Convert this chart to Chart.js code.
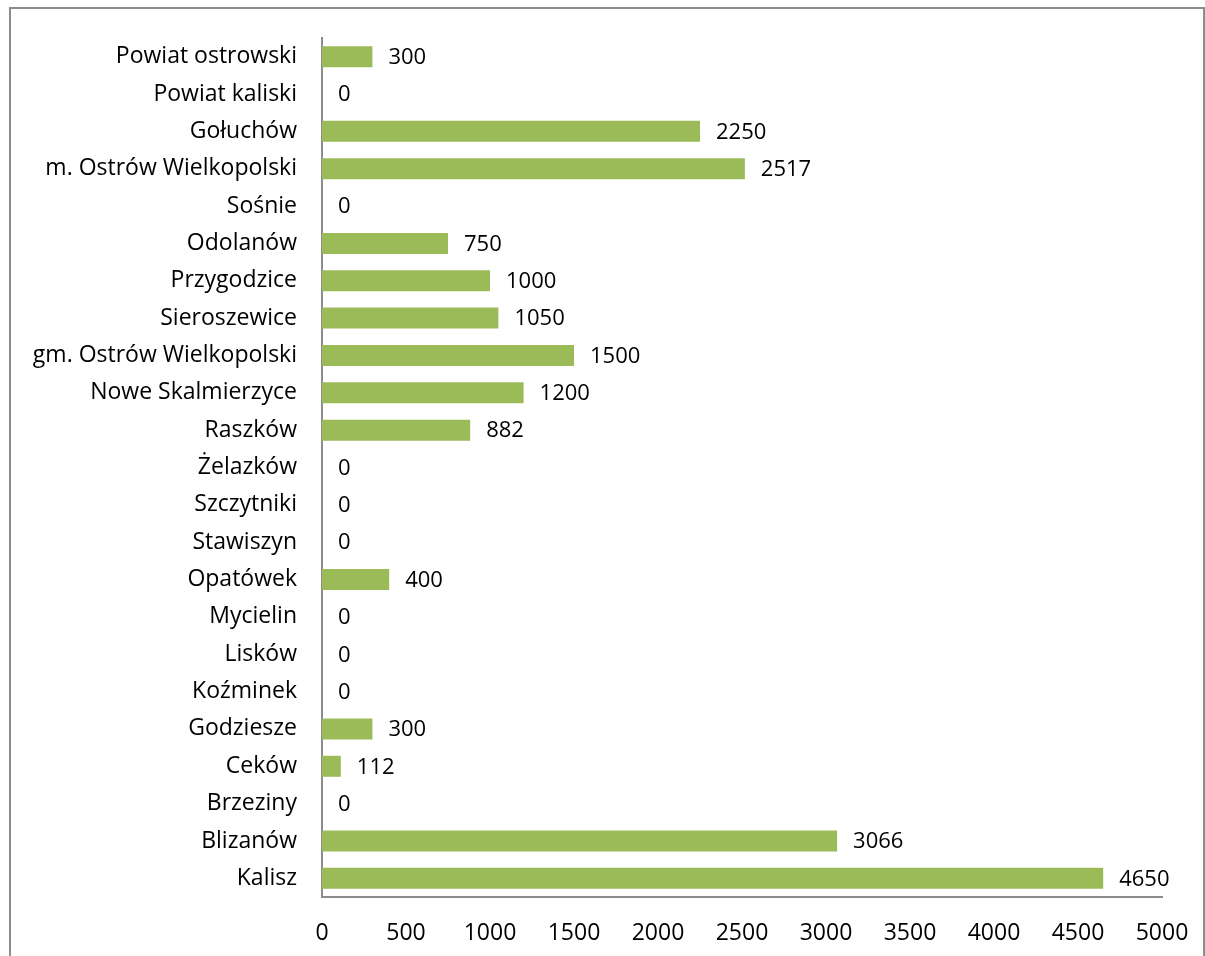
<!DOCTYPE html>
<html>
<head>
<meta charset="utf-8">
<script src="https://cdn.jsdelivr.net/npm/chart.js@4/dist/chart.umd.min.js"></script>
<style>
  html, body { margin: 0; padding: 0; background: #fff; }
  #wrap { width: 1205px; height: 956px; position: relative; }
</style>
</head>
<body>
<div id="wrap"><canvas id="chart" width="1205" height="956"></canvas></div>
<script>
// categories, top to bottom as in the picture
const gminy = [
  'Powiat ostrowski', 'Powiat kaliski', 'Gołuchów', 'm. Ostrów Wielkopolski',
  'Sośnie', 'Odolanów', 'Przygodzice', 'Sieroszewice', 'gm. Ostrów Wielkopolski',
  'Nowe Skalmierzyce', 'Raszków', 'Żelazków', 'Szczytniki', 'Stawiszyn',
  'Opatówek', 'Mycielin', 'Lisków', 'Koźminek', 'Godziesze', 'Ceków',
  'Brzeziny', 'Blizanów', 'Kalisz'
];
const wartosci = [
  300, 0, 2250, 2517, 0, 750, 1000, 1050, 1500, 1200, 882, 0, 0, 0,
  400, 0, 0, 0, 300, 112, 0, 3066, 4650
];
const xTicks = [0, 500, 1000, 1500, 2000, 2500, 3000, 3500, 4000, 4500, 5000];

const FONT = '"Open Sans", "Noto Sans", sans-serif';
const SIZE = 23;

// outer frame like the office chart border
const ramka = {
  id: 'ramka',
  beforeDraw(chart) {
    const ctx = chart.ctx;
    ctx.save();
    ctx.strokeStyle = '#8c8c8c';
    ctx.lineWidth = 2;
    ctx.strokeRect(10, 8, 1194, 1000);
    ctx.restore();
  }
};

// value labels to the right of each bar
const etykiety = {
  id: 'etykiety',
  afterDatasetsDraw(chart) {
    const ctx = chart.ctx;
    const meta = chart.getDatasetMeta(0);
    ctx.save();
    ctx.font = (SIZE - 1) + 'px ' + FONT;
    ctx.fillStyle = '#000';
    ctx.textAlign = 'left';
    ctx.textBaseline = 'middle';
    meta.data.forEach((bar, i) => {
      ctx.fillText(String(wartosci[i]), bar.x + 16, bar.y + 1);
    });
    ctx.restore();
  }
};

new Chart(document.getElementById('chart'), {
  type: 'bar',
  data: {
    labels: gminy,
    datasets: [{
      data: wartosci,
      backgroundColor: '#9bbb59',
      borderWidth: 0,
      barPercentage: 0.75,
      categoryPercentage: 0.75
    }]
  },
  options: {
    indexAxis: 'y',
    responsive: false,
    animation: false,
    layout: { padding: { left: 0, top: 38, right: 43, bottom: 0 } },
    plugins: {
      legend: { display: false },
      tooltip: { enabled: false }
    },
    scales: {
      x: {
        min: 0,
        max: 5000,
        afterFit(scale) { scale.height = 59; },
        afterBuildTicks(scale) { scale.ticks = xTicks.map(v => ({ value: v })); },
        grid: { display: false },
        border: { display: true, color: '#8c8c8c', width: 2 },
        ticks: {
          color: '#000', padding: 15,
          font: { size: SIZE, family: FONT },
          callback: (v) => String(v)
        }
      },
      y: {
        afterFit(scale) { scale.width = 322; },
        grid: { display: false },
        border: { display: true, color: '#8c8c8c', width: 2 },
        ticks: { color: '#000', padding: 17, autoSkip: false, font: { size: SIZE, family: FONT } }
      }
    }
  },
  plugins: [ramka, etykiety]
});
</script>
</body>
</html>
